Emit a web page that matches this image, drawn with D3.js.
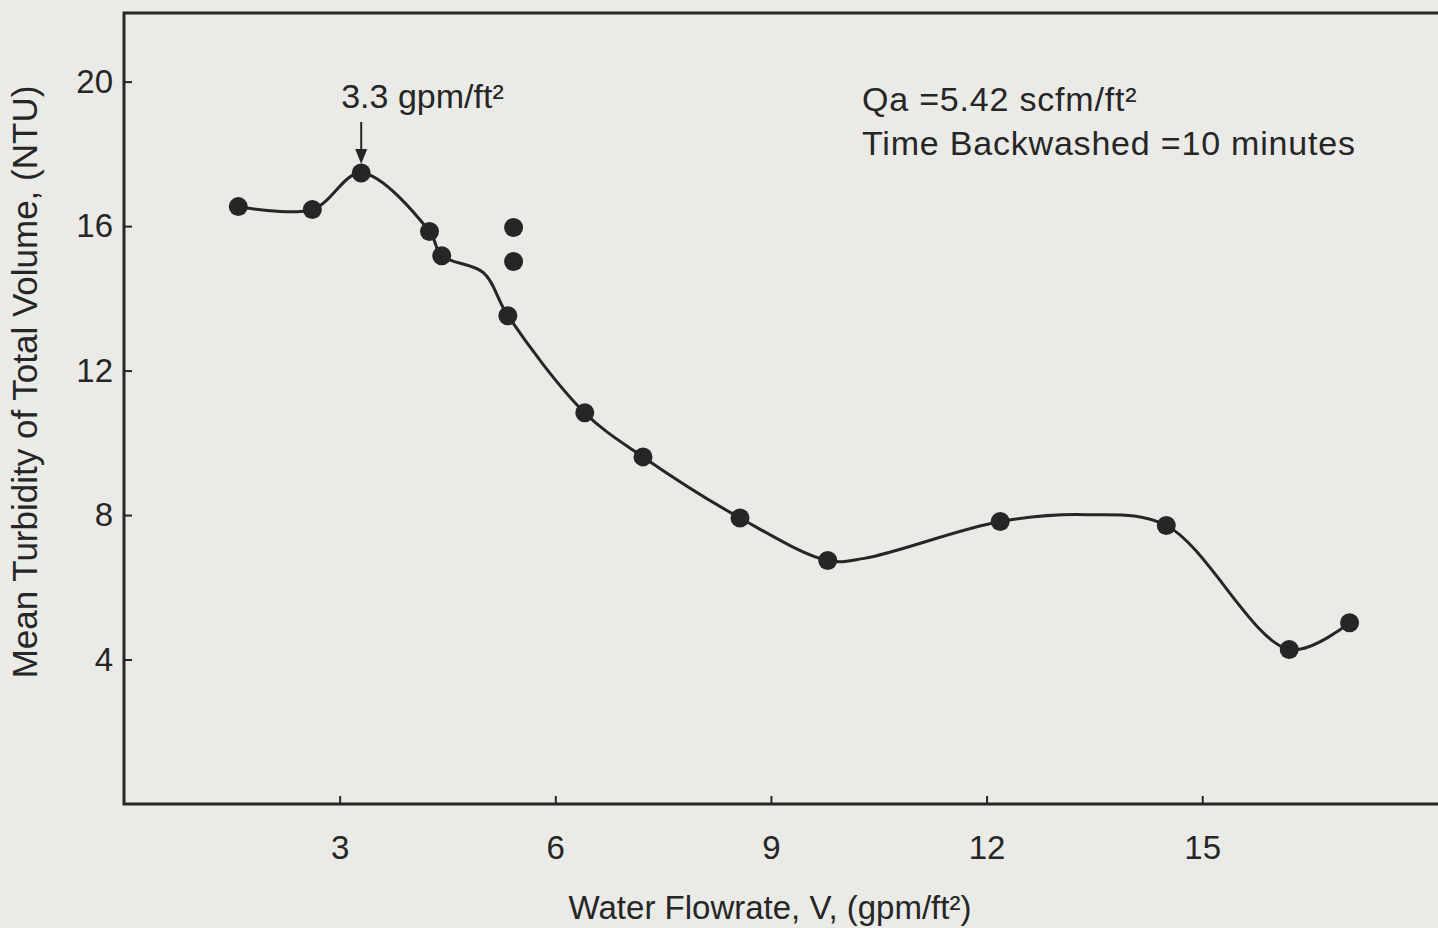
<!DOCTYPE html>
<html>
<head>
<meta charset="utf-8">
<script src="https://cdn.jsdelivr.net/npm/d3@7"></script>
<style>
  html, body { margin: 0; padding: 0; background: #eaeae7; }
  svg { display: block; }
  text { font-family: "Liberation Sans", Arial, Helvetica, sans-serif; fill: #262626; }
</style>
</head>
<body>
<svg id="chart"></svg>
<script>
const width = 1438;
const height = 928;

// measured points (water flowrate gpm/ft2, mean turbidity NTU)
const flowrate  = [1.59, 2.62, 3.3, 4.25, 4.42, 5.42, 5.42, 5.34, 6.41, 7.22, 8.57, 9.79, 12.19, 14.50, 16.21, 17.05];
const turbidity = [16.54, 16.46, 17.47, 15.85, 15.18, 15.96, 15.02, 13.52, 10.83, 9.61, 7.92, 6.74, 7.82, 7.71, 4.28, 5.02];

// hand-drawn fitted curve
const curveX = [1.59, 2.62, 3.3, 4.25, 4.42, 5.0, 5.34, 6.41, 7.22, 8.57, 9.79, 10.3, 12.19, 13.39, 14.50, 16.21, 17.05];
const curveY = [16.54, 16.46, 17.47, 15.85, 15.18, 14.71, 13.52, 10.83, 9.61, 7.92, 6.74, 6.80, 7.82, 8.01, 7.71, 4.28, 5.02];

const xTicks = [3, 6, 9, 12, 15];
const yTicks = [4, 8, 12, 16, 20];

const ink = '#262626';

const svg = d3.select('#chart')
    .attr('width', width)
    .attr('height', height);

const x = d3.scaleLinear().domain([0, 18.28]).range([124, 1438]);
const y = d3.scaleLinear().domain([0, 21.9]).range([804, 13]);

// frame (left, top, bottom)
svg.append('path')
    .attr('d', `M${width},${y(21.9)}H${x(0)}V${y(0)}H${width}`)
    .attr('fill', 'none')
    .attr('stroke', ink)
    .attr('stroke-width', 3);

// ticks point inward
const xAxis = svg.append('g')
    .attr('transform', `translate(0,${y(0)})`)
    .call(d3.axisBottom(x).tickValues(xTicks).tickSize(-8).tickSizeOuter(0).tickPadding(32));
const yAxis = svg.append('g')
    .attr('transform', `translate(${x(0)},0)`)
    .call(d3.axisLeft(y).tickValues(yTicks).tickSize(-8).tickSizeOuter(0).tickPadding(11));

[xAxis, yAxis].forEach(g => {
  g.select('.domain').remove();
  g.selectAll('line').attr('stroke', ink).attr('stroke-width', 2);
  g.selectAll('text')
    .attr('fill', ink)
    .style('font-size', '33px')
    .style('font-family', '"Liberation Sans", Arial, sans-serif');
});

// axis titles
svg.append('text')
    .attr('x', 770)
    .attr('y', 919)
    .attr('text-anchor', 'middle')
    .style('font-size', '33px')
    .text('Water Flowrate, V, (gpm/ft²)');

svg.append('text')
    .attr('transform', `translate(37,382) rotate(-90)`)
    .attr('text-anchor', 'middle')
    .style('font-size', '35px')
    .text('Mean Turbidity of Total Volume, (NTU)');

// fitted curve
const pts = curveX.map((d, i) => [d, curveY[i]]);
const line = d3.line()
    .x(d => x(d[0]))
    .y(d => y(d[1]))
    .curve(d3.curveCatmullRom.alpha(0.5));

svg.append('path')
    .datum(pts)
    .attr('d', line)
    .attr('fill', 'none')
    .attr('stroke', ink)
    .attr('stroke-width', 3);

// data points
svg.selectAll('.dot')
    .data(flowrate.map((d, i) => [d, turbidity[i]]))
    .enter().append('circle')
    .attr('class', 'dot')
    .attr('cx', d => x(d[0]))
    .attr('cy', d => y(d[1]))
    .attr('r', 9.5)
    .attr('fill', ink);

// arrow to 3.3 gpm/ft2
const ax = x(flowrate[2]);
const tipY = y(turbidity[2]) - 9;
svg.append('line')
    .attr('x1', ax).attr('x2', ax)
    .attr('y1', tipY - 42).attr('y2', tipY - 10)
    .attr('stroke', ink)
    .attr('stroke-width', 2);
svg.append('path')
    .attr('d', `M${ax - 6},${tipY - 15}L${ax + 6},${tipY - 15}L${ax},${tipY}Z`)
    .attr('fill', ink);

svg.append('text')
    .attr('x', ax - 20)
    .attr('y', 108)
    .style('font-size', '34px')
    .text('3.3 gpm/ft²');

// conditions note
const note = ['Qa =5.42 scfm/ft²', 'Time Backwashed =10 minutes'];
svg.selectAll('.note')
    .data(note)
    .enter().append('text')
    .attr('class', 'note')
    .attr('x', 862)
    .attr('y', (d, i) => 111 + i * 44)
    .style('font-size', '34px')
    .style('letter-spacing', '0.8px')
    .text(d => d);
</script>
</body>
</html>
